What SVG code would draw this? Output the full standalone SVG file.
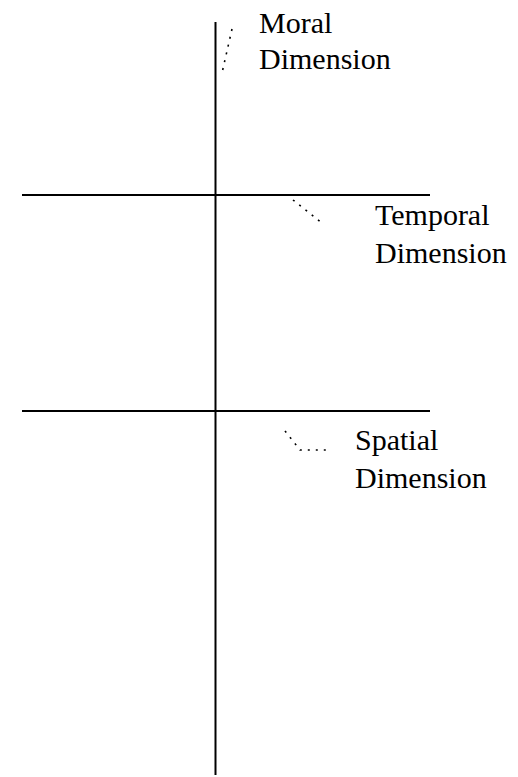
<svg xmlns="http://www.w3.org/2000/svg" width="518" height="777" viewBox="0 0 518 777">
<style>
.axis{stroke:#000;stroke-width:2;fill:none}
.lead{stroke:#000;stroke-width:1.6;fill:none;stroke-dasharray:2 6}
.lbl{font-family:"Liberation Serif","Times New Roman",serif;font-size:30px;fill:#000}
</style>
<rect width="518" height="777" fill="#fff"/>
<g id="axes">
<line class="axis" x1="215.5" y1="22" x2="215.5" y2="775"/>
<line class="axis" x1="22" y1="195" x2="430" y2="195"/>
<line class="axis" x1="22" y1="411" x2="430" y2="411"/>
</g>
<g id="connectors">
<path class="lead" d="M232,29 L222,73"/>
<path class="lead" d="M293,200 L323,224"/>
<path class="lead" d="M285,431 L300,450 L330,450"/>
</g>
<g id="moral">
<text class="lbl" x="259" y="33">Moral</text>
<text class="lbl" x="259" y="69">Dimension</text>
</g>
<g id="temporal">
<text class="lbl" x="375" y="225">Temporal</text>
<text class="lbl" x="375" y="263">Dimension</text>
</g>
<g id="spatial">
<text class="lbl" x="355" y="450">Spatial</text>
<text class="lbl" x="355" y="488">Dimension</text>
</g>
</svg>
